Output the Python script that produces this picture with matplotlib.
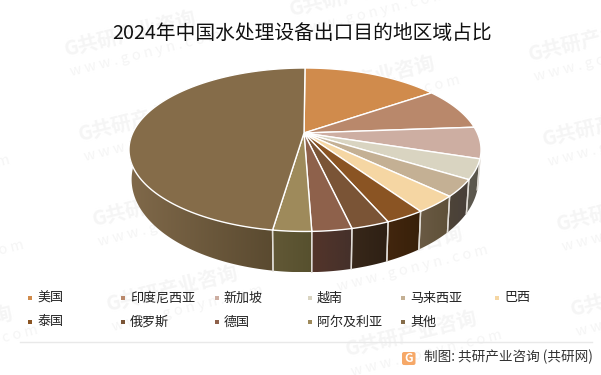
import numpy as np
import matplotlib
matplotlib.use("Agg")
import matplotlib.pyplot as plt
from matplotlib.patches import Polygon, Rectangle, FancyBboxPatch
from matplotlib.colors import LinearSegmentedColormap

plt.rcParams['font.family'] = ['Noto Sans CJK SC', 'DejaVu Sans']

title = "2024年中国水处理设备出口目的地区域占比"
categories = ["美国", "印度尼西亚", "新加坡", "越南", "马来西亚", "巴西",
              "泰国", "俄罗斯", "德国", "阿尔及利亚", "其他"]
shares = [15.3, 8.5, 6.2, 3.9, 3.3, 3.4, 3.0, 2.9, 3.0, 2.9, 47.6]
top_colors = ["#D08B4C", "#B9886B", "#CDAEA2", "#D9D4C1", "#C4B094", "#F5D6A3",
              "#8A5423", "#7A5436", "#8E614B", "#9E8A5B", "#856C49"]
side_left = ["#8a6240", "#7a5a46", "#867068", "#5e5a50", "#4e4438", "#6a5a44",
             "#42260e", "#38281a", "#54352a", "#625836", "#80694a"]
side_right = ["#8a6240", "#7a5a46", "#867068", "#5a564c", "#48403a", "#5e5038",
              "#38200a", "#2e2014", "#44302a", "#56502e", "#5a4a30"]

APEX_X, CX, CY = 304.0, 305.0, 133.0
A, K, B = 78.3, 0.2047, 172.3

fig = plt.figure(figsize=(6.01, 3.75), dpi=100)
ax = fig.add_axes([0, 0, 1, 1])
ax.set_xlim(0, 601)
ax.set_ylim(375, 0)
ax.axis("off")

# watermarks on a skewed lattice
WM_ANGLE = 14
for i in range(-1, 3):
    for j in range(-1, 5):
        x = 65 + i * 225 + j * 14
        y = 50 - i * 40 + j * 85
        if x > 601 or x < -150 or y > 385 or y < -10:
            continue
        ax.text(x, y, "G共研产业咨询", color="#f5f5f5", fontsize=14.5, fontweight="bold",
                rotation=WM_ANGLE, ha="left", va="center", rotation_mode="anchor", zorder=0)
        ax.text(x + 5, y + 22, "w w w . g o n y n . c o m", color="#f5f5f5", fontsize=10.5,
                rotation=WM_ANGLE, ha="left", va="center", rotation_mode="anchor", zorder=0)


def rim(theta, bottom=False):
    u, v = np.sin(theta), np.cos(theta)
    w = 1 + K * v
    X = B * u / w
    Y = -A * v / w
    if bottom:
        return CX + 0.985 * X, CY + Y + 27.5 + 0.135 * Y
    return CX + X, CY + Y


edges = np.concatenate([[0], np.cumsum(shares)]) / np.sum(shares) * 2 * np.pi

# sides
for i in range(len(shares)):
    t0, t1 = edges[i], edges[i + 1]
    t0v, t1v = max(t0, np.radians(100)), min(t1, np.radians(268))
    if t1v <= t0v:
        continue
    t = np.linspace(t0v, t1v, 60)
    xt, yt = rim(t)
    xb, yb = rim(t, True)
    pts = np.column_stack([np.r_[xt, xb[::-1]], np.r_[yt, yb[::-1]]])
    poly = Polygon(pts, closed=True, fc="none", ec="none", zorder=2)
    ax.add_patch(poly)
    lo, hi = pts[:, 0].min(), pts[:, 0].max()
    ylo, yhi = pts[:, 1].min(), pts[:, 1].max()
    cm = LinearSegmentedColormap.from_list("s", [side_left[i], side_right[i]])
    im = ax.imshow(np.linspace(0, 1, 128).reshape(1, -1), cmap=cm, aspect="auto",
                   extent=[lo, hi, yhi, ylo], zorder=2, interpolation="bilinear")
    im.set_clip_path(poly)
    for tt in (t0v, t1v):
        if np.radians(100) < tt < np.radians(200):
            a = rim(tt)
            b = rim(tt, True)
            ax.plot([a[0], b[0]], [a[1], b[1]], color="#e0dcd6", lw=1.0, zorder=3)
ax.set_xlim(0, 601)
ax.set_ylim(375, 0)

# tops
for i in range(len(shares)):
    t = np.linspace(edges[i], edges[i + 1], 120)
    xt, yt = rim(t)
    pts = np.column_stack([np.r_[APEX_X, xt], np.r_[CY, yt]])
    ax.add_patch(Polygon(pts, closed=True, fc=top_colors[i], ec="white", lw=1.0,
                         joinstyle="round", zorder=4))

ax.text(302, 33.5, title, fontsize=14.2, color="#111111", ha="center", va="center", zorder=6)

# legend
col_x = [30, 123, 216.5, 310, 403, 497]
for i, name in enumerate(categories):
    r, c = divmod(i, 6)
    x = col_x[c]
    y = 298 + r * 24
    ax.add_patch(Rectangle((x - 2, y - 2), 4, 4, fc=top_colors[i], ec="none", zorder=6))
    ax.text(x + 7, y, name, fontsize=9.4, color="#222222", ha="left", va="center", zorder=6)

# footer
ax.plot([20, 592], [342, 342], color="#e9e9e9", lw=1, zorder=6)
ax.add_patch(FancyBboxPatch((402, 352), 13.5, 13, boxstyle="round,pad=0,rounding_size=2",
                            fc="#F6A868", ec="none", zorder=6))
ax.text(408.8, 358.5, "G", color="white", fontsize=8.5, fontweight="bold", ha="center",
        va="center", zorder=7)
ax.text(424, 357, "制图: 共研产业咨询 (共研网)", fontsize=9.8, color="#333333",
        ha="left", va="center", zorder=6)

fig.savefig("out.png", dpi=100, facecolor="white")
